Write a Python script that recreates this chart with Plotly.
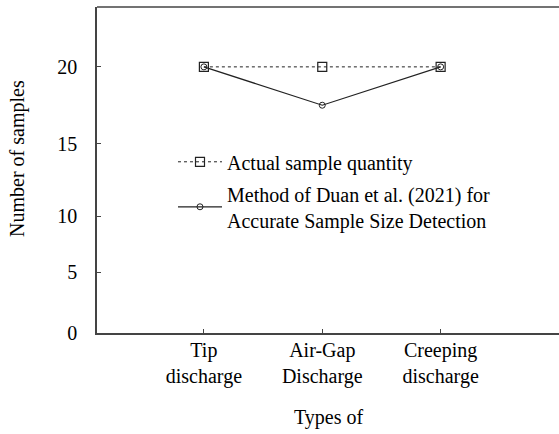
import plotly.graph_objects as go

categories = ["Tip<br>discharge", "Air-Gap<br>Discharge", "Creeping<br>discharge"]
actual_quantity = [20, 20, 20]
duan_method = [20, 17.5, 20]

# y tick positions as they appear in the reference (non-uniform label spacing)
y_tick_vals = [2.66, 6.62, 10.26, 15, 20]
y_tick_text = ["0", "5", "10", "15", "20"]

FONT = "'Times New Roman', 'Liberation Serif', serif"
FS = 20
AX = "#444444"

fig = go.Figure()
fig.add_trace(go.Scatter(
    x=categories, y=actual_quantity, mode="lines+markers",
    name="Actual sample quantity", legendgroup="a",
    line=dict(color="#222222", width=1, dash="dot"),
    marker=dict(symbol="square-open", size=9, color="#222222", line=dict(width=1.2)),
))
fig.add_trace(go.Scatter(
    x=categories, y=duan_method, mode="lines+markers",
    name="Method of Duan et al. (2021) for<br>Accurate Sample Size Detection",
    legendgroup="b",
    line=dict(color="#222222", width=1.2),
    marker=dict(symbol="circle-open", size=6, color="#222222", line=dict(width=1)),
))

fig.update_layout(
    width=559, height=434,
    margin=dict(l=97, r=0, t=7, b=101),
    plot_bgcolor="white", paper_bgcolor="white",
    font=dict(family=FONT, size=FS, color="black"),
    showlegend=True,
    legend=dict(x=0.1645, y=0.585, xanchor="left", yanchor="top",
                bgcolor="rgba(0,0,0,0)", borderwidth=0,
                font=dict(family=FONT, size=FS, color="black"),
                itemwidth=44, tracegroupgap=3),
    xaxis=dict(
        type="category", range=[-0.903, 3.0],
        showline=True, linecolor=AX, linewidth=1.5, mirror=False,
        ticks="inside", ticklen=4, tickcolor=AX, tickwidth=1,
        showgrid=False, zeroline=False,
        ticklabelstandoff=-2,
        tickfont=dict(family=FONT, size=FS, color="black"),
    ),
    yaxis=dict(
        range=[2.66, 23.9],
        tickmode="array", tickvals=y_tick_vals, ticktext=y_tick_text,
        showline=True, linecolor=AX, linewidth=1.5, mirror=False,
        ticks="inside", ticklen=4, tickcolor=AX, tickwidth=1,
        showgrid=False, zeroline=False,
        ticklabelstandoff=14,
        tickfont=dict(family=FONT, size=FS, color="black"),
    ),
    shapes=[dict(type="line", xref="paper", yref="paper", x0=0, x1=1, y0=1, y1=1,
                 line=dict(color=AX, width=1.5))],
    annotations=[
        dict(text="Number of samples", xref="paper", yref="paper",
             x=-0.171, y=0.537, xanchor="center", yanchor="middle",
             textangle=-90, showarrow=False,
             font=dict(family=FONT, size=FS, color="black")),
        dict(text="Types of", xref="paper", yref="paper",
             x=0.502, y=-0.258, xanchor="center", yanchor="middle",
             showarrow=False,
             font=dict(family=FONT, size=FS, color="black")),
    ],
)

fig.write_html("out.html", config={"displayModeBar": False},
               post_script="document.body.style.margin='0px';document.body.style.padding='0px';")
